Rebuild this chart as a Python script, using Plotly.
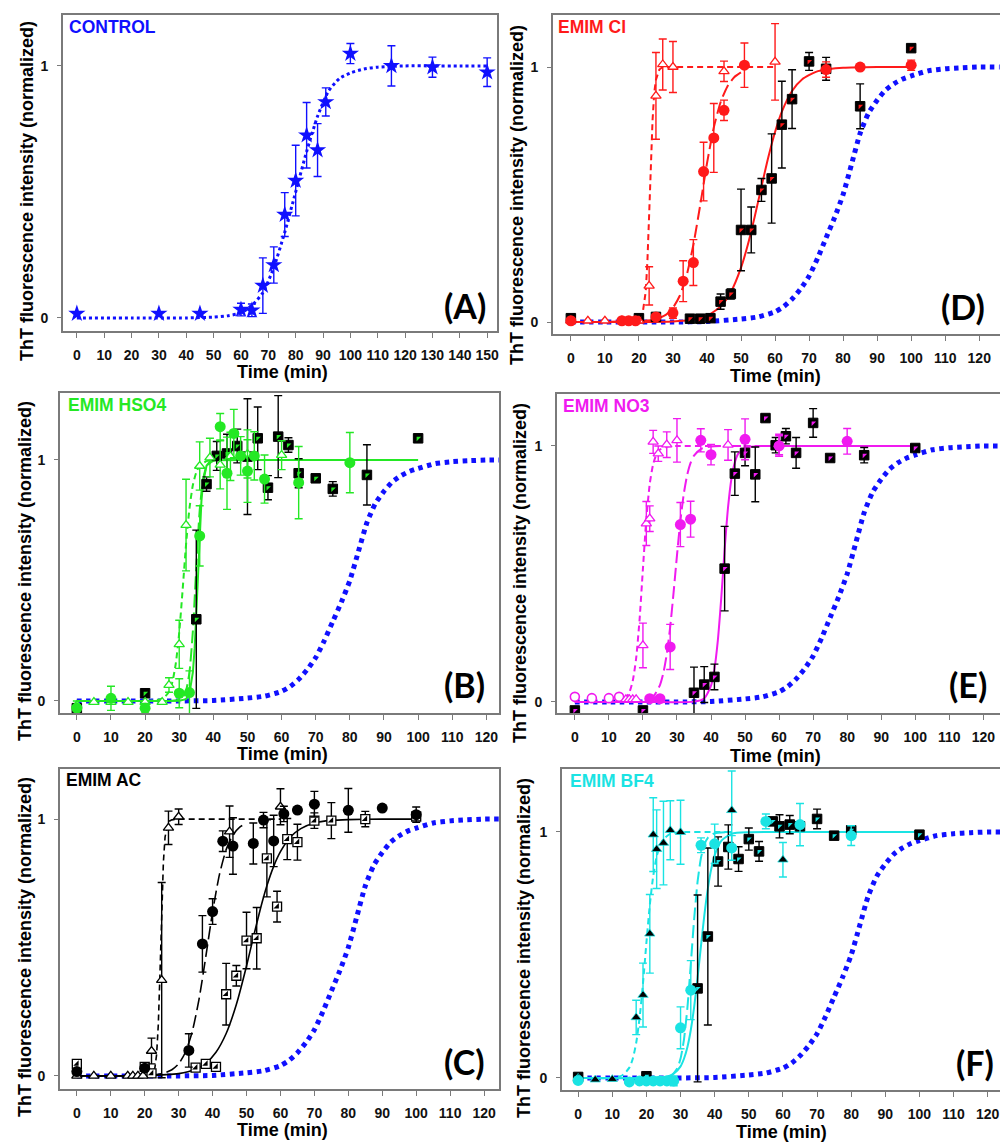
import plotly.graph_objects as go

W, H = 1002, 1142
FONT = "Liberation Sans, Arial, sans-serif"
BLUE = "#1010ff"
RED = "#ff1a1a"
GREEN = "#24e824"
MAG = "#f01af0"
CYAN = "#1ae3e3"
BLACK = "#000000"
FRAME = "#7a7a7a"

# ---------------- data ----------------
# control (panel A)
a_x = [0, 30, 45, 60, 64, 68, 72, 76, 80, 84, 88, 91, 100, 115, 130, 150]
a_y = [0.017, 0.017, 0.017, 0.033, 0.03, 0.128, 0.21, 0.41, 0.545, 0.725, 0.666, 0.857, 1.049, 1.0, 0.995, 0.975]
a_err = [0, 0, 0, 0.025, 0.025, 0.11, 0.072, 0.087, 0.14, 0.13, 0.105, 0.056, 0.04, 0.08, 0.04, 0.057]
a_fit_x = [0, 20, 40, 50, 55, 60, 64, 68, 72, 76, 80, 84, 88, 92, 96, 100, 105, 110, 120, 130, 140, 150]
a_fit_y = [0, 0, 0, 0.003, 0.008, 0.02, 0.05, 0.1, 0.2, 0.34, 0.5, 0.66, 0.8, 0.9, 0.95, 0.972, 0.988, 0.995, 1.0, 1.0, 1.0, 1.0]

# control fit reused in panels B-F
ctrl_x = [0, 10, 20, 30, 40, 50, 55, 60, 62.5, 65, 67.5, 70, 72.5, 75, 77.5, 80, 82.5, 85, 87.5, 90, 92.5, 95, 97.5, 100, 105, 110, 115, 120, 126]
ctrl_y = [0, 0, 0, 0, 0.002, 0.012, 0.02, 0.04, 0.06, 0.09, 0.13, 0.18, 0.25, 0.33, 0.41, 0.5, 0.62, 0.74, 0.82, 0.87, 0.91, 0.935, 0.953, 0.965, 0.985, 0.993, 0.997, 1.0, 1.0]

# panel D : EMIM Cl
d_tri_x = [0, 5, 10, 15, 20, 23, 25, 27, 30, 45, 60]
d_tri_y = [0.005, 0.005, 0.005, 0.005, 0.005, 0.142, 0.887, 1.01, 1.0, 0.983, 1.02]
d_tri_err = [0, 0, 0, 0, 0, 0.075, 0.17, 0.1, 0.1, 0.04, 0.15]
d_cir_x = [0, 15, 17, 19, 25, 30, 33, 36, 39, 42, 45, 51, 75, 85, 100]
d_cir_y = [0.005, 0.005, 0.005, 0.005, 0.02, 0.035, 0.16, 0.233, 0.59, 0.722, 0.83, 1.007, 0.99, 1.0, 1.007]
d_cir_err = [0, 0, 0, 0, 0, 0.02, 0.08, 0.09, 0.115, 0.135, 0.04, 0.087, 0.03, 0.01, 0.02]
d_sq_x = [0, 20, 25, 35, 38, 41, 44, 47, 50, 53, 56, 59, 62, 65, 70, 75, 85, 100]
d_sq_y = [0.015, 0.015, 0.02, 0.013, 0.013, 0.015, 0.08, 0.11, 0.361, 0.361, 0.518, 0.563, 0.774, 0.874, 1.022, 0.993, 0.846, 1.074]
d_sq_err = [0, 0, 0, 0, 0, 0, 0.03, 0.02, 0.16, 0.09, 0.045, 0.175, 0.17, 0.115, 0.035, 0.045, 0.088, 0]
d_tri_fit_x = [0, 10, 20, 21, 22, 22.5, 23, 23.5, 24, 24.5, 25, 26, 27, 30, 40, 50, 60]
d_tri_fit_y = [0, 0, 0.005, 0.025, 0.12, 0.24, 0.42, 0.62, 0.79, 0.9, 0.95, 0.99, 1, 1, 1, 1, 1]
d_cir_fit_x = [0, 10, 20, 25, 28, 30, 32, 34, 36, 38, 40, 42, 44, 46, 48, 50]
d_cir_fit_y = [0, 0, 0.002, 0.011, 0.029, 0.056, 0.103, 0.182, 0.303, 0.458, 0.622, 0.763, 0.862, 0.924, 0.96, 0.979]
d_sq_fit_x = [0, 20, 30, 35, 40, 44, 47, 50, 52, 54, 56, 58, 60, 62, 65, 68, 72, 76, 80, 90, 100]
d_sq_fit_y = [0, 0, 0.002, 0.0075, 0.024, 0.061, 0.117, 0.213, 0.303, 0.412, 0.53, 0.645, 0.745, 0.825, 0.906, 0.952, 0.981, 0.992, 0.997, 1.0, 1.0]

# panel B : EMIM HSO4
b_tri_x = [0, 5, 10, 15, 20, 25, 27, 30, 32, 36, 39, 42, 45, 50, 60]
b_tri_y = [-0.017, -0.005, -0.005, -0.005, -0.005, -0.005, 0.066, 0.235, 0.73, 0.975, 1.01, 0.98, 1.015, 1.025, 1.02]
b_tri_err = [0, 0, 0, 0, 0, 0, 0.03, 0.1, 0.19, 0.1, 0.08, 0.1, 0.1, 0.1, 0.06]
b_cir_x = [0, 10, 20, 30, 33, 36, 42, 44, 46, 48, 50, 52, 55, 65, 80]
b_cir_y = [-0.03, 0.011, -0.03, 0.032, 0.035, 0.685, 1.138, 0.945, 1.11, 1.017, 0.954, 1.017, 0.921, 0.906, 0.989]
b_cir_err = [0.03, 0.05, 0.02, 0.06, 0.09, 0.125, 0.055, 0.15, 0.1, 0.08, 0.13, 0.1, 0.1, 0.15, 0.125]
b_sq_x = [0, 20, 35, 38, 41, 44, 47, 50, 53, 56, 59, 62, 65, 70, 75, 85, 100]
b_sq_y = [-0.03, 0.032, 0.339, 0.90, 1.017, 1.027, 1.058, 1.014, 1.09, 0.885, 1.097, 1.062, 0.945, 0.924, 0.88, 0.938, 1.09]
b_sq_err = [0, 0, 0.37, 0.03, 0.06, 0.08, 0.07, 0.24, 0.13, 0.05, 0.17, 0.03, 0.06, 0, 0.03, 0.125, 0]
b_tri_fit_x = [0, 10, 20, 25, 27, 28, 29, 30, 31, 32, 33, 34, 35, 36, 38, 40, 45]
b_tri_fit_y = [0, 0, 0, 0.008, 0.038, 0.079, 0.156, 0.284, 0.462, 0.649, 0.799, 0.896, 0.949, 0.976, 0.995, 1.0, 1.0]
b_cir_fit_x = [0, 20, 28, 30, 31, 32, 33, 34, 35, 36, 37, 38, 40, 45]
b_cir_fit_y = [0, 0, 0.0005, 0.005, 0.014, 0.043, 0.119, 0.291, 0.555, 0.791, 0.92, 0.972, 0.997, 1.0]
b_sq_fit_x = [0, 20, 30, 32, 33, 34, 34.5, 35, 35.5, 36, 36.5, 37, 38, 39, 40, 50, 100]
b_sq_fit_y = [0, 0, 0.0005, 0.0077, 0.031, 0.119, 0.216, 0.361, 0.536, 0.702, 0.828, 0.908, 0.976, 0.994, 0.999, 1.0, 1.0]

# panel E : EMIM NO3
e_tri_x = [15, 16, 17, 18, 20, 21, 22, 23, 24.5, 27, 30, 45, 60]
e_tri_y = [0.01, 0.01, 0.01, 0.01, 0.221, 0.697, 0.716, 1.016, 0.97, 1.005, 1.022, 1.004, 1.006]
e_tri_err = [0, 0, 0, 0, 0.087, 0.086, 0.05, 0.045, 0.03, 0.05, 0.085, 0.06, 0.04]
e_ocir_x = [0, 5, 10, 13]
e_ocir_y = [0.02, 0.015, 0.015, 0.02]
e_cir_x = [22, 25, 28, 31, 34, 37, 40, 50, 60, 80]
e_cir_y = [0.013, 0.013, 0.215, 0.693, 0.714, 1.022, 0.966, 1.026, 1.0, 1.018]
e_cir_err = [0, 0, 0.088, 0.086, 0.07, 0.045, 0.04, 0.08, 0.04, 0.05]
e_sq_x = [0, 20, 35, 38, 41, 44, 47, 50, 53, 56, 59, 62, 65, 70, 75, 85, 100]
e_sq_y = [-0.033, -0.033, 0.036, 0.068, 0.098, 0.521, 0.892, 0.973, 0.889, 1.109, 1.003, 1.038, 0.973, 1.09, 0.953, 0.964, 0.992]
e_sq_err = [0, 0, 0.1, 0.07, 0.05, 0.165, 0.085, 0.05, 0.107, 0, 0.03, 0.03, 0.06, 0.056, 0, 0.03, 0]
e_tri_fit_x = [0, 10, 13, 15, 16, 17, 18, 19, 20, 21, 22, 23, 24, 25, 27, 30, 40, 50, 60]
e_tri_fit_y = [0, 0, 0.003, 0.017, 0.037, 0.082, 0.17, 0.32, 0.521, 0.714, 0.852, 0.929, 0.968, 0.986, 0.997, 1.0, 1.0, 1.0, 1.0]
e_cir_fit_x = [0, 15, 20, 23, 25, 26, 27, 28, 29, 30, 31, 32, 33, 34, 35, 37, 40, 45, 50]
e_cir_fit_y = [0, 0, 0.004, 0.021, 0.066, 0.113, 0.187, 0.292, 0.427, 0.573, 0.708, 0.813, 0.887, 0.934, 0.962, 0.988, 0.998, 1.0, 1.0]
e_sq_fit_x = [0, 20, 35, 38, 40, 41, 42, 43, 44, 45, 46, 47, 48, 50, 55, 60, 80, 100]
e_sq_fit_y = [0, 0, 0.0014, 0.014, 0.064, 0.128, 0.24, 0.405, 0.595, 0.76, 0.872, 0.936, 0.97, 0.993, 1.0, 1.0, 1.0, 1.0]

# panel C : EMIM AC
c_tri_x = [0, 5, 10, 15, 16.5, 18, 19.5, 22, 25, 27, 30, 45, 60]
c_tri_y = [0, 0, 0, 0, 0, 0, 0, 0.097, 0.373, 0.966, 1.009, 0.951, 1.048]
c_tri_err = [0, 0, 0, 0, 0, 0, 0, 0.05, 0.38, 0.065, 0.03, 0.1, 0.07]
c_cir_x = [0, 20, 33, 37, 40, 43, 46, 52, 55, 58, 61, 65, 70, 80, 90, 100]
c_cir_y = [0.017, 0.03, 0.099, 0.514, 0.64, 0.914, 0.895, 0.905, 0.996, 0.915, 1.02, 1.035, 1.058, 1.034, 1.043, 1.017]
c_cir_err = [0, 0, 0.065, 0.11, 0.05, 0.04, 0.11, 0.08, 0.03, 0.1, 0.03, 0, 0.05, 0.085, 0, 0.03]
c_sq_x = [0, 20, 22, 35, 38, 41, 44, 47, 50, 53, 56, 59, 62, 65, 70, 75, 85, 100]
c_sq_y = [0.047, 0.035, 0.01, 0.032, 0.047, 0.035, 0.318, 0.39, 0.527, 0.536, 0.847, 0.659, 0.922, 0.91, 0.994, 0.994, 1.0, 1.01]
c_sq_err = [0, 0, 0, 0, 0, 0, 0.12, 0.04, 0.11, 0.12, 0.15, 0.06, 0.08, 0.07, 0.03, 0.07, 0.03, 0]
c_tri_fit_x = [0, 10, 20, 22, 23, 23.5, 24, 24.5, 25, 25.5, 26, 27, 28, 30, 40, 50, 60]
c_tri_fit_y = [0, 0, 0, 0.0045, 0.032, 0.083, 0.198, 0.401, 0.646, 0.832, 0.931, 0.99, 0.997, 1.0, 1.0, 1.0, 1.0]
c_cir_fit_x = [0, 10, 20, 25, 28, 30, 32, 34, 36, 38, 40, 42, 44, 46, 48, 50]
c_cir_fit_y = [0, 0, 0.0014, 0.008, 0.024, 0.047, 0.092, 0.172, 0.298, 0.464, 0.639, 0.783, 0.881, 0.938, 0.969, 0.984]
c_sq_fit_x = [0, 20, 30, 35, 38, 41, 44, 47, 50, 52, 54, 56, 58, 60, 63, 66, 70, 75, 80, 90, 100]
c_sq_fit_y = [0, 0.001, 0.0088, 0.026, 0.049, 0.092, 0.165, 0.278, 0.428, 0.539, 0.646, 0.74, 0.816, 0.873, 0.931, 0.963, 0.985, 0.995, 0.998, 1.0, 1.0]

# panel F : EMIM BF4
f_tri_x = [0, 5, 10, 17, 19, 21, 22, 23, 25, 27, 30, 45, 60]
f_tri_y = [0.0, -0.007, -0.005, 0.246, 0.337, 0.586, 0.989, 0.93, 0.955, 1.007, 0.999, 1.088, 0.887]
f_tri_err = [0, 0, 0, 0.07, 0.13, 0.16, 0.15, 0.16, 0.17, 0.12, 0.13, 0.16, 0.07]
f_cir_x = [0, 15, 18, 20, 22, 24, 26, 28, 30, 33, 36, 40, 45, 55, 65, 80]
f_cir_y = [-0.01, -0.016, -0.012, -0.012, -0.012, -0.012, -0.012, -0.012, 0.204, 0.357, 0.946, 0.952, 0.935, 1.043, 1.03, 0.985]
f_cir_err = [0, 0, 0, 0, 0, 0, 0, 0.02, 0.085, 0.12, 0.03, 0.08, 0.05, 0.03, 0.086, 0.04]
f_sq_x = [0, 20, 35, 38, 41, 44, 47, 50, 53, 57, 59, 62, 65, 70, 75, 80, 100]
f_sq_y = [0.004, 0.007, 0.364, 0.575, 0.88, 0.939, 0.89, 0.971, 0.921, 1.043, 1.023, 1.03, 1.023, 1.053, 0.985, 1.007, 0.989]
f_sq_err = [0, 0, 0.38, 0.36, 0.1, 0.09, 0.05, 0.045, 0.04, 0, 0.047, 0.037, 0, 0.04, 0, 0, 0]
f_tri_fit_x = [0, 10, 13, 15, 16, 17, 18, 19, 20, 21, 22, 23, 24, 25, 27, 30, 40, 45]
f_tri_fit_y = [0, 0, 0.011, 0.042, 0.078, 0.142, 0.244, 0.385, 0.55, 0.704, 0.822, 0.9, 0.946, 0.971, 0.992, 0.999, 1.0, 1.0]
f_cir_fit_x = [0, 20, 27, 29, 30, 31, 32, 33, 34, 35, 36, 37, 38, 40, 45]
f_cir_fit_y = [0, 0, 0.008, 0.038, 0.079, 0.156, 0.284, 0.462, 0.649, 0.799, 0.896, 0.949, 0.976, 0.995, 1.0]
f_sq_fit_x = [0, 20, 26, 28, 30, 31, 32, 33, 34, 35, 36, 37, 38, 39, 40, 42, 45, 50, 60, 80, 100]
f_sq_fit_y = [0, 0, 0.006, 0.017, 0.047, 0.078, 0.125, 0.195, 0.29, 0.409, 0.539, 0.665, 0.77, 0.85, 0.906, 0.965, 0.993, 0.999, 1.0, 1.0, 1.0]

x_ticks_A = list(range(0, 151, 10))
x_ticks = list(range(0, 121, 10))
y_ticks = [0, 1]
y_tick_text = ["0", "1"]

# ---------------- layout geometry (pixels) ----------------
panels = {
    "A": (1, (63, 498, 15, 331), (-5.11, 153.6), (-0.052, 1.202), True),
    "D": (2, (554, 1002, 15, 334), (-5.28, 126.1), (-0.047, 1.204), False),
    "B": (3, (60, 500, 393, 713), (-4.97, 123.7), (-0.050, 1.278), True),
    "E": (4, (558, 1002, 394, 713), (-5.28, 124.9), (-0.043, 1.203), False),
    "C": (5, (60, 500, 769, 1089), (-5.0, 124.4), (-0.051, 1.195), True),
    "F": (6, (563, 1002, 769, 1090), (-4.77, 123.6), (-0.049, 1.256), False),
}

fig = go.Figure()


def axn(i):
    return ("x" if i == 1 else f"x{i}"), ("y" if i == 1 else f"y{i}")


def add_fit(i, x, y, color, dash, width=2.0, smooth=True):
    xa, ya = axn(i)
    fig.add_trace(go.Scatter(x=x, y=y, mode="lines", xaxis=xa, yaxis=ya,
                             line=dict(color=color, width=width, dash=dash,
                                       shape="spline" if smooth else "linear", smoothing=0.6),
                             hoverinfo="skip", showlegend=False))


def add_pts(i, x, y, err, symbol, size, fill, lcolor, ecolor, lw=1.3):
    xa, ya = axn(i)
    kw = {}
    if err is not None:
        kw["error_y"] = dict(type="data", array=err, visible=True, color=ecolor, thickness=1.4, width=4)
    fig.add_trace(go.Scatter(x=x, y=y, mode="markers", xaxis=xa, yaxis=ya,
                             marker=dict(symbol=symbol, size=size, color=fill,
                                         line=dict(color=lcolor, width=lw)),
                             showlegend=False, **kw))


def add_squares(i, x, y, err, accent, white=False):
    if white:
        add_pts(i, x, y, err, "square", 9, "white", BLACK, BLACK, lw=1.3)
        add_pts(i, x, y, None, "triangle-se", 6, BLACK, BLACK, BLACK, lw=0)
    else:
        add_pts(i, x, y, err, "square", 9.5, BLACK, BLACK, BLACK, lw=1)
        add_pts(i, x, y, None, "triangle-nw", 5, accent, accent, accent, lw=0)


CTRL_DASH = "4.5px,4.5px"
TRI_DASH = "6px,4px"
CIR_DASH = "13px,5px"

# Panel A
add_fit(1, a_fit_x, a_fit_y, BLUE, "3px,3px", width=3)
add_pts(1, a_x, a_y, a_err, "star", 13, BLUE, BLUE, BLUE, lw=0)

# Panels B-F control curve
for i in (2, 3, 4, 5, 6):
    add_fit(i, ctrl_x, ctrl_y, BLUE, CTRL_DASH, width=5)

# Panel D
add_fit(2, d_tri_fit_x, d_tri_fit_y, RED, TRI_DASH, smooth=False)
add_fit(2, d_cir_fit_x, d_cir_fit_y, RED, CIR_DASH)
add_fit(2, d_sq_fit_x, d_sq_fit_y, RED, "solid")
add_squares(2, d_sq_x, d_sq_y, d_sq_err, RED)
add_pts(2, d_tri_x, d_tri_y, d_tri_err, "triangle-up", 9, "white", RED, RED)
add_pts(2, d_cir_x, d_cir_y, d_cir_err, "circle", 11, RED, RED, RED, lw=0)

# Panel B
add_fit(3, b_tri_fit_x, b_tri_fit_y, GREEN, TRI_DASH)
add_fit(3, b_cir_fit_x, b_cir_fit_y, GREEN, CIR_DASH)
add_fit(3, b_sq_fit_x, b_sq_fit_y, GREEN, "solid", smooth=False)
add_squares(3, b_sq_x, b_sq_y, b_sq_err, GREEN)
add_pts(3, b_tri_x, b_tri_y, b_tri_err, "triangle-up", 9, "white", GREEN, GREEN)
add_pts(3, b_cir_x, b_cir_y, b_cir_err, "circle", 11, GREEN, GREEN, GREEN, lw=0)

# Panel E
add_fit(4, e_tri_fit_x, e_tri_fit_y, MAG, TRI_DASH)
add_fit(4, e_cir_fit_x, e_cir_fit_y, MAG, CIR_DASH)
add_fit(4, e_sq_fit_x, e_sq_fit_y, MAG, "solid")
add_squares(4, e_sq_x, e_sq_y, e_sq_err, MAG)
add_pts(4, e_ocir_x, e_ocir_y, None, "circle", 9, "white", MAG, MAG, lw=1.6)
add_pts(4, e_tri_x, e_tri_y, e_tri_err, "triangle-up", 9, "white", MAG, MAG)
add_pts(4, e_cir_x, e_cir_y, e_cir_err, "circle", 11, MAG, MAG, MAG, lw=0)

# Panel C
add_fit(5, c_tri_fit_x, c_tri_fit_y, BLACK, TRI_DASH, width=1.6, smooth=False)
add_fit(5, c_cir_fit_x, c_cir_fit_y, BLACK, CIR_DASH, width=1.6)
add_fit(5, c_sq_fit_x, c_sq_fit_y, BLACK, "solid", width=1.6)
add_squares(5, c_sq_x, c_sq_y, c_sq_err, BLACK, white=True)
add_pts(5, c_tri_x, c_tri_y, c_tri_err, "triangle-up", 9, "white", BLACK, BLACK)
add_pts(5, c_cir_x, c_cir_y, c_cir_err, "circle", 11, BLACK, BLACK, BLACK, lw=0)

# Panel F
add_fit(6, f_tri_fit_x, f_tri_fit_y, CYAN, TRI_DASH)
add_fit(6, f_cir_fit_x, f_cir_fit_y, CYAN, CIR_DASH)
add_fit(6, f_sq_fit_x, f_sq_fit_y, CYAN, "solid")
add_squares(6, f_sq_x, f_sq_y, f_sq_err, CYAN)
add_pts(6, f_tri_x, f_tri_y, f_tri_err, "triangle-up", 9, BLACK, CYAN, CYAN, lw=0.8)
add_pts(6, f_cir_x, f_cir_y, f_cir_err, "circle", 11, CYAN, CYAN, CYAN, lw=0)

# ---------------- axes ----------------
tickfont = dict(family=FONT, size=14, color="#111111", weight="bold")
layout = {}
for name, (i, (l, r, t, b), xr, yr, mirror_r) in panels.items():
    xs = "xaxis" if i == 1 else f"xaxis{i}"
    ys = "yaxis" if i == 1 else f"yaxis{i}"
    ya = "y" if i == 1 else f"y{i}"
    xa = "x" if i == 1 else f"x{i}"
    layout[xs] = dict(domain=[l / W, r / W], range=list(xr), anchor=ya,
                      tickvals=x_ticks_A if name == "A" else x_ticks,
                      ticks="outside", ticklen=5, tickwidth=1.3, tickcolor=FRAME,
                      showline=True, linecolor=FRAME, linewidth=1.6, mirror=True,
                      showgrid=False, zeroline=False, tickfont=tickfont,
                      ticklabelstandoff=5, fixedrange=True)
    layout[ys] = dict(domain=[1 - b / H, 1 - t / H], range=list(yr), anchor=xa,
                      tickvals=y_ticks, ticktext=y_tick_text,
                      ticks="outside", ticklen=4, tickwidth=1.3, tickcolor=FRAME,
                      showline=True, linecolor=FRAME, linewidth=1.6,
                      mirror=True if mirror_r else False,
                      showgrid=False, zeroline=False, tickfont=tickfont,
                      ticklabelstandoff=6, fixedrange=True)

# ---------------- annotations ----------------
ann = []


def px_ann(text, x, y, size, color=BLACK, angle=0, xanchor="center", family=FONT):
    ann.append(dict(text=text, x=x / W, y=1 - y / H, xref="paper", yref="paper",
                    showarrow=False, textangle=angle, xanchor=xanchor, yanchor="middle",
                    font=dict(family=family, size=size, color=color, weight="bold")))


ytitle = "ThT fluorescence intensity (normalized)"
for (x, y) in [(27, 191), (518, 195), (25, 571), (521, 573), (25, 947), (525, 948)]:
    px_ann(ytitle, x, y, 18, angle=-90)
for (x, y) in [(283, 372), (777, 376), (283, 754), (777, 756), (283, 1130), (783, 1132)]:
    px_ann("Time (min)", x, y, 18)

titles = [("CONTROL", 67, 27, BLUE), ("EMIM Cl", 557, 27, RED), ("EMIM HSO4", 66, 405, GREEN),
          ("EMIM NO3", 562, 406, MAG), ("EMIM AC", 64, 780, BLACK), ("EMIM BF4", 569, 781, CYAN)]
for t, x, y, c in titles:
    px_ann(t, x, y, 17.5, color=c, xanchor="left")

letters = [("(A)", 466, 305), ("(D)", 965, 306), ("(B)", 465, 684), ("(E)", 970, 684),
           ("(C)", 465, 1061), ("(F)", 977, 1062)]
for t, x, y in letters:
    px_ann(t, x, y, 34, family="Lato, Open Sans, sans-serif")

fig.update_layout(width=W, height=H, margin=dict(l=0, r=0, t=0, b=0),
                  paper_bgcolor="white", plot_bgcolor="white", showlegend=False,
                  annotations=ann, **layout)

fig.write_html("out.html", include_plotlyjs=True, config={"displayModeBar": False})
